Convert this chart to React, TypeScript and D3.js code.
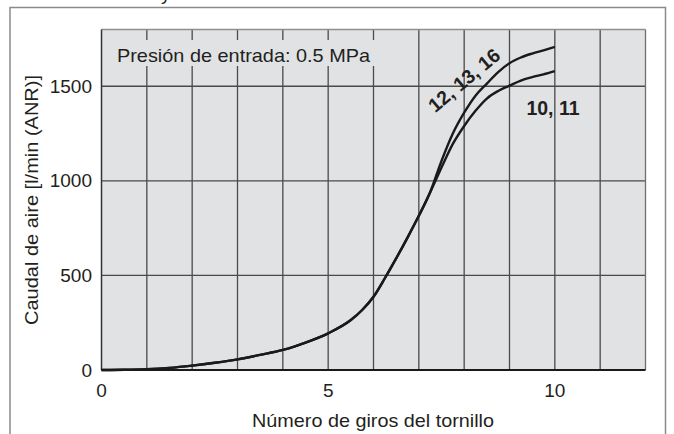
import React from "react";
import * as d3 from "d3";

const turns = [0, 0.5, 1, 1.5, 2, 2.5, 3, 3.5, 4, 4.5, 5, 5.5, 5.75, 6, 6.25, 6.5, 6.75, 7, 7.25, 7.5, 7.75, 8, 8.25, 8.5, 8.75, 9, 9.25, 9.5, 9.75, 10];
const flowHigh = [0, 1, 4, 11, 23, 38, 56, 80, 106, 145, 194, 264, 317, 387, 485, 590, 700, 815, 940, 1105, 1250, 1360, 1450, 1514, 1575, 1622, 1652, 1673, 1690, 1708];
const flowLow = [0, 1, 4, 11, 23, 38, 56, 80, 106, 145, 194, 264, 317, 387, 485, 590, 700, 815, 940, 1070, 1195, 1290, 1370, 1435, 1475, 1503, 1530, 1548, 1563, 1580];
const xTicks = [0, 5, 10];
const yTicks = [0, 500, 1000, 1500];
const xGrid = [1, 2, 3, 4, 5, 6, 7, 8, 9, 10, 11];
const yGrid = [500, 1000, 1500];
const seriesLabels = ["12, 13, 16", "10, 11"];
const xTitle = "Número de giros del tornillo";
const yTitle = "Caudal de aire [l/min (ANR)]";
const note = "Presión de entrada: 0.5 MPa";

export default function App() {
  const W = 674, H = 434;
  const x = d3.scaleLinear().domain([0, 12]).range([101.5, 645.5]);
  const y = d3.scaleLinear().domain([0, 1800]).range([370, 29.5]);
  const line = d3
    .line<number>()
    .x((_, i) => x(turns[i]))
    .y((d) => y(d))
    .curve(d3.curveMonotoneX);
  const font = "'Liberation Sans', Arial, Helvetica, sans-serif";
  const textColor = "#231f20";
  const gridColor = "#4a4a4a";
  const x0 = x(0), x1 = x(12), yTop = y(1800), yBot = y(0);

  return (
    <svg
      width={W}
      height={H}
      style={{ position: "absolute", left: 0, top: 0, background: "#fff" }}
      fontFamily={font}
    >
      {/* cut-off text above frame (as in reference) */}
      <text x={161} y={0} fontSize={19} fill={textColor}>y</text>
      {/* outer frame */}
      <path d={`M10,${H + 5}V7.5H665.5V${H + 5}`} fill="none" stroke="#8a8a8a" strokeWidth={1.5} />
      {/* plot background */}
      <rect x={x0} y={yTop} width={x1 - x0} height={yBot - yTop} fill="#e1e2e4" />
      {/* grid */}
      {xGrid.map((g) => (
        <line key={"gx" + g} x1={x(g)} x2={x(g)} y1={yTop} y2={yBot} stroke={gridColor} strokeWidth={1.3} />
      ))}
      {yGrid.map((g) => (
        <line key={"gy" + g} x1={x0} x2={x1} y1={y(g)} y2={y(g)} stroke={gridColor} strokeWidth={1.3} />
      ))}
      {/* note box covering gridlines */}
      <rect x={x0 + 1} y={40} width={x(6) + 3 - x0} height={26} fill="#e1e2e4" />
      <text x={117} y={62} fontSize={18.5} fill={textColor} textLength={253} lengthAdjust="spacingAndGlyphs">
        {note}
      </text>
      {/* plot border */}
      <line x1={x0} x2={x1} y1={yTop} y2={yTop} stroke="#8f8f8f" strokeWidth={1.3} />
      <line x1={x1} x2={x1} y1={yTop} y2={yBot} stroke="#6f6f6f" strokeWidth={1.3} />
      <line x1={x0} x2={x0} y1={yTop} y2={yBot} stroke="#333" strokeWidth={1.5} />
      <line x1={x0} x2={x1} y1={yBot} y2={yBot} stroke="#1a1a1a" strokeWidth={2} />
      {/* curves */}
      <path d={line(flowHigh) || ""} fill="none" stroke="#1a1a1a" strokeWidth={2.4} />
      <path d={line(flowLow) || ""} fill="none" stroke="#1a1a1a" strokeWidth={2.4} />
      {/* series labels */}
      <text
        transform={`translate(${464},${80}) rotate(-40)`}
        textAnchor="middle"
        dominantBaseline="central"
        fontSize={19.5}
        fontWeight="bold"
        fill={textColor}
      >
        {seriesLabels[0]}
      </text>
      <text x={553} y={115} textAnchor="middle" fontSize={19.5} fontWeight="bold" fill={textColor}>
        {seriesLabels[1]}
      </text>
      {/* y tick labels */}
      {yTicks.map((t) => (
        <text key={"yt" + t} x={92} y={y(t)} textAnchor="end" dominantBaseline="central" fontSize={19} fill={textColor}>
          {t}
        </text>
      ))}
      {/* x tick labels */}
      {xTicks.map((t) => (
        <text key={"xt" + t} x={x(t)} y={397} textAnchor="middle" fontSize={19} fill={textColor}>
          {t}
        </text>
      ))}
      {/* axis titles */}
      <text x={373} y={427} textAnchor="middle" fontSize={19} fill={textColor} textLength={242} lengthAdjust="spacingAndGlyphs">
        {xTitle}
      </text>
      <text
        transform={`translate(${38},${200}) rotate(-90)`}
        textAnchor="middle"
        fontSize={19}
        fill={textColor}
        textLength={250}
        lengthAdjust="spacingAndGlyphs"
      >
        {yTitle}
      </text>
    </svg>
  );
}
